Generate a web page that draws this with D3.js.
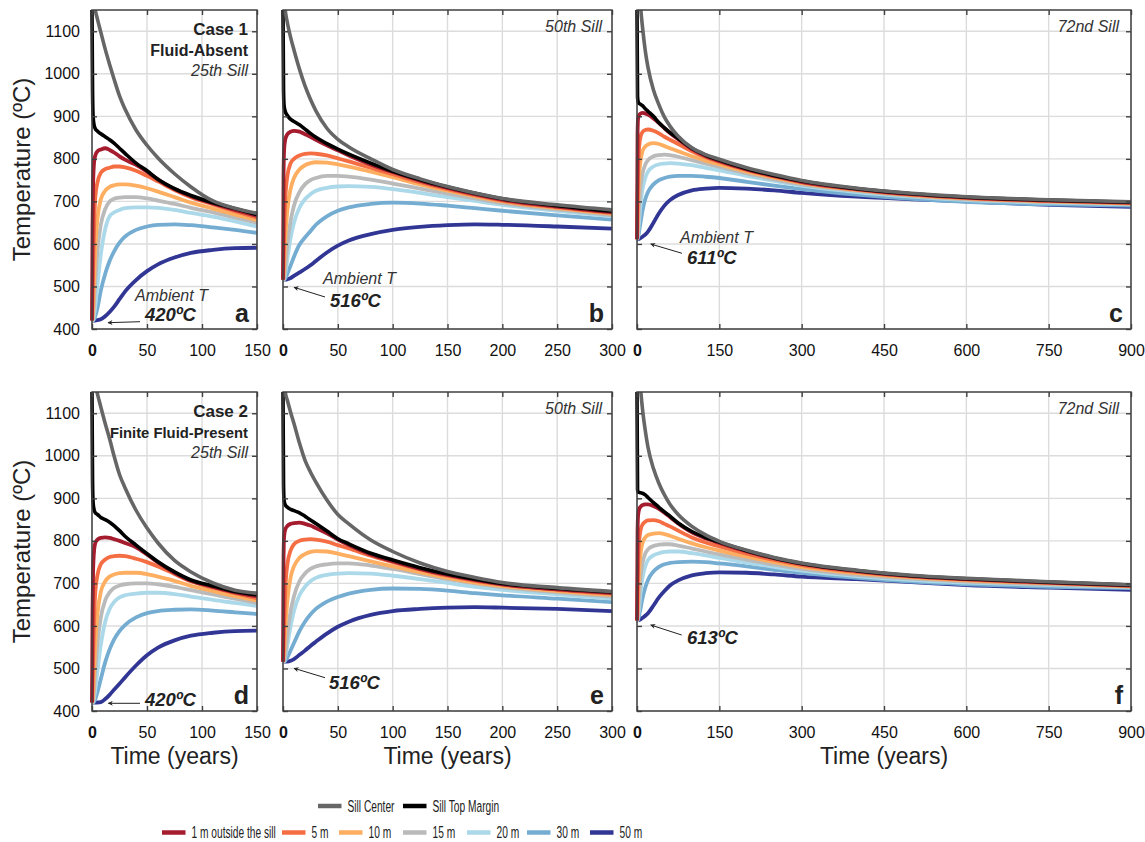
<!DOCTYPE html>
<html>
<head>
<meta charset="utf-8">
<script src="https://cdn.jsdelivr.net/npm/d3@7"></script>
<style>
  body { margin: 0; background: #fff; }
  svg { display: block; }
</style>
</head>
<body>
<svg id="fig" width="1145" height="842"></svg>
<script>
// ---- Time samples (years after emplacement) ----
const timeAD = [0, 0.5, 1, 2, 3, 5, 8, 12, 16, 20, 25, 30, 40, 50, 60, 75, 90, 110, 130, 150];
const timeBE = [0, 0.5, 1, 2, 4, 7, 10, 15, 20, 25, 30, 40, 50, 60, 80, 100, 125, 150, 175, 200, 250, 300];
const timeCF = [0, 1, 2, 4, 7, 10, 15, 20, 30, 40, 50, 60, 75, 100, 125, 150, 200, 250, 300, 400, 500, 600, 750, 900];

// ---- Case 1, 25th sill (°C) ----
const aCenter = [1200, 1195, 1185, 1168, 1150, 1128, 1098, 1058, 1022, 988, 948, 917, 868, 832, 802, 765, 734, 701, 684, 672];
const aMargin = [1150, 960, 900, 878, 871, 865, 859, 852, 845, 837, 825, 813, 790, 772, 752, 730, 714, 697, 683, 669];
const a1m  = [420, 640, 740, 795, 808, 818, 822, 825, 821, 815, 806, 798, 786, 770, 751, 729, 712, 695, 680, 666];
const a5m  = [420, 470, 540, 650, 710, 745, 767, 776, 779, 782, 782, 780, 772, 760, 747, 727, 710, 693, 677, 662];
const a10m = [420, 425, 445, 520, 590, 660, 705, 725, 734, 738, 740, 740, 737, 731, 723, 710, 697, 683, 669, 656];
const a15m = [420, 420, 428, 470, 515, 585, 645, 682, 700, 706, 709, 710, 710, 707, 702, 694, 685, 674, 662, 650];
const a20m = [420, 420, 421, 435, 455, 505, 575, 635, 665, 674, 680, 684, 686, 686, 685, 680, 673, 664, 653, 641];
const a30m = [420, 420, 420, 423, 430, 450, 490, 530, 560, 582, 603, 617, 633, 641, 645, 646, 644, 639, 633, 626];
const a50m = [420, 420, 420, 420, 420, 421, 423, 430, 440, 452, 470, 488, 515, 536, 552, 568, 579, 586, 590, 591];

// ---- Case 1, 50th sill ----
const bCenter = [1200, 1188, 1175, 1150, 1120, 1085, 1056, 1011, 972, 940, 913, 872, 846, 828, 800, 775, 753, 735, 720, 707, 692, 680];
const bMargin = [1150, 960, 925, 912, 902, 893, 888, 880, 870, 860, 851, 836, 823, 811, 790, 771, 751, 734, 719, 706, 690, 677];
const b1m  = [516, 760, 820, 845, 858, 864, 866, 864, 858, 852, 845, 832, 820, 808, 787, 769, 749, 732, 717, 704, 688, 675];
const b5m  = [516, 560, 620, 700, 760, 790, 800, 808, 812, 813, 812, 808, 801, 794, 779, 764, 745, 729, 715, 702, 686, 673];
const b10m = [516, 525, 550, 610, 680, 730, 755, 775, 785, 790, 792, 791, 787, 782, 770, 757, 740, 725, 712, 700, 684, 671];
const b15m = [516, 516, 520, 545, 600, 655, 690, 722, 740, 750, 755, 760, 760, 758, 751, 742, 730, 718, 707, 696, 681, 668];
const b20m = [516, 516, 518, 530, 565, 615, 650, 685, 705, 717, 725, 732, 735, 736, 734, 729, 720, 710, 701, 692, 678, 665];
const b30m = [516, 516, 516, 519, 530, 550, 570, 598, 615, 630, 645, 665, 678, 686, 694, 697, 695, 690, 684, 678, 667, 657];
const b50m = [516, 516, 516, 516, 517, 520, 525, 533, 541, 550, 560, 580, 596, 608, 623, 633, 640, 644, 646, 645, 641, 636];

// ---- Case 1, 72nd sill ----
const cCenter = [1300, 1270, 1245, 1200, 1150, 1110, 1055, 1015, 962, 927, 898, 877, 853, 826, 810, 799, 779, 763, 749, 731, 719, 711, 704, 699];
const cMargin = [1150, 945, 935, 930, 928, 925, 918, 912, 900, 885, 873, 862, 848, 825, 809, 797, 777, 761, 748, 730, 718, 710, 703, 698];
const c1m  = [611, 860, 895, 903, 907, 908, 907, 904, 895, 884, 872, 861, 846, 823, 807, 795, 775, 760, 746, 729, 717, 709, 702, 697];
const c5m  = [611, 700, 770, 830, 855, 863, 868, 869, 866, 860, 852, 845, 835, 818, 804, 793, 774, 758, 745, 728, 716, 708, 701, 696];
const c10m = [611, 640, 690, 760, 800, 818, 829, 834, 837, 835, 830, 825, 818, 806, 796, 787, 770, 756, 743, 727, 715, 707, 700, 695];
const c15m = [611, 620, 640, 690, 740, 765, 786, 797, 806, 809, 810, 809, 805, 797, 789, 781, 766, 752, 740, 725, 713, 705, 699, 694];
const c20m = [611, 614, 625, 655, 700, 728, 755, 770, 782, 787, 789, 790, 789, 785, 779, 773, 760, 748, 737, 722, 711, 703, 697, 693];
const c30m = [611, 612, 615, 630, 655, 678, 705, 722, 740, 750, 755, 758, 760, 760, 758, 755, 746, 737, 729, 716, 706, 699, 693, 690];
const c50m = [611, 611, 611, 612, 614, 617, 622, 629, 650, 672, 690, 703, 715, 726, 730, 732, 730, 726, 720, 711, 705, 700, 692, 687];

// ---- Case 2, 25th sill ----
const dCenter = [1210, 1203, 1196, 1182, 1168, 1145, 1115, 1076, 1040, 1000, 956, 925, 872, 830, 795, 754, 727, 701, 684, 677];
const dMargin = [1150, 940, 890, 872, 866, 862, 855, 850, 844, 836, 824, 811, 790, 770, 751, 727, 708, 694, 681, 673];
const d1m  = [420, 630, 730, 780, 795, 803, 807, 808, 807, 804, 800, 795, 785, 768, 749, 725, 706, 692, 679, 670];
const d5m  = [420, 460, 520, 620, 680, 720, 745, 756, 762, 764, 765, 764, 758, 750, 740, 722, 705, 690, 677, 665];
const d10m = [420, 425, 440, 500, 560, 630, 680, 705, 716, 721, 724, 725, 725, 722, 716, 706, 694, 682, 670, 660];
const d15m = [420, 420, 425, 455, 495, 560, 620, 660, 679, 689, 695, 698, 700, 700, 698, 692, 684, 674, 664, 654];
const d20m = [420, 420, 421, 433, 450, 495, 555, 610, 640, 656, 667, 672, 676, 678, 678, 675, 669, 661, 654, 647];
const d30m = [420, 420, 420, 422, 428, 445, 475, 515, 545, 568, 588, 602, 620, 630, 635, 638, 639, 636, 632, 628];
const d50m = [420, 420, 420, 420, 420, 420, 421, 428, 438, 450, 464, 479, 507, 531, 549, 566, 577, 584, 588, 589];

// ---- Case 2, 50th sill ----
const eCenter = [1190, 1180, 1170, 1150, 1130, 1102, 1076, 1030, 990, 962, 938, 896, 862, 840, 802, 775, 748, 728, 714, 702, 690, 681];
const eMargin = [1150, 930, 895, 885, 879, 874, 871, 866, 858, 849, 841, 823, 805, 793, 771, 755, 737, 722, 710, 700, 688, 680];
const e1m  = [516, 760, 810, 826, 835, 840, 842, 843, 840, 836, 830, 818, 803, 790, 768, 752, 734, 720, 708, 698, 686, 678];
const e5m  = [516, 550, 600, 680, 745, 778, 792, 800, 803, 804, 803, 798, 790, 782, 765, 750, 733, 718, 706, 697, 685, 676];
const e10m = [516, 525, 540, 590, 660, 715, 740, 760, 769, 774, 776, 775, 770, 764, 752, 740, 726, 713, 702, 694, 682, 673];
const e15m = [516, 516, 519, 535, 580, 635, 670, 705, 723, 734, 740, 745, 747, 747, 742, 734, 722, 710, 700, 691, 679, 669];
const e20m = [516, 516, 517, 527, 555, 600, 635, 672, 692, 705, 713, 720, 723, 724, 723, 718, 710, 701, 692, 685, 674, 664];
const e30m = [516, 516, 516, 518, 526, 543, 560, 588, 610, 627, 640, 657, 668, 676, 685, 688, 687, 683, 677, 672, 664, 656];
const e50m = [516, 516, 516, 516, 516, 518, 522, 532, 542, 553, 563, 582, 598, 610, 626, 635, 640, 643, 644, 643, 640, 635];

// ---- Case 2, 72nd sill ----
const fCenter = [1300, 1270, 1245, 1200, 1150, 1110, 1060, 1020, 970, 935, 908, 886, 862, 834, 814, 799, 778, 761, 748, 731, 719, 712, 704, 697];
const fMargin = [1150, 920, 915, 914, 913, 912, 908, 902, 890, 879, 868, 858, 842, 822, 808, 797, 777, 760, 747, 730, 718, 711, 703, 696];
const f1m  = [613, 820, 860, 875, 881, 884, 886, 886, 882, 875, 866, 856, 841, 820, 806, 795, 775, 759, 746, 729, 717, 710, 702, 695];
const f5m  = [613, 680, 740, 800, 828, 838, 845, 848, 849, 846, 840, 834, 824, 808, 796, 787, 770, 755, 743, 727, 716, 709, 701, 694];
const f10m = [613, 630, 665, 730, 775, 795, 808, 814, 817, 818, 816, 812, 805, 794, 785, 777, 763, 750, 739, 724, 714, 707, 700, 693];
const f15m = [613, 616, 630, 670, 720, 748, 770, 780, 788, 791, 792, 792, 789, 782, 775, 768, 756, 744, 734, 720, 711, 704, 698, 692];
const f20m = [613, 614, 622, 645, 685, 713, 740, 755, 766, 771, 774, 775, 775, 771, 766, 760, 749, 739, 730, 717, 708, 702, 696, 691];
const f30m = [613, 613, 615, 625, 645, 665, 690, 708, 728, 739, 745, 748, 750, 751, 750, 747, 740, 732, 725, 713, 704, 698, 692, 689];
const f50m = [613, 613, 613, 614, 616, 619, 624, 630, 648, 667, 682, 695, 707, 719, 724, 726, 725, 721, 716, 710, 703, 696, 690, 685];

// ---- Series, ticks and labels ----
const seriesNames  = ["Sill Center", "Sill Top Margin", "1 m outside the sill", "5 m", "10 m", "15 m", "20 m", "30 m", "50 m"];
const seriesColors = ["#666666", "#000000", "#a51c2f", "#f46d43", "#fdae61", "#bababa", "#abd9e9", "#74add1", "#313695"];
const tempTicks = [400, 500, 600, 700, 800, 900, 1000, 1100];
const ticksAD = [0, 50, 100, 150];
const ticksBE = [0, 50, 100, 150, 200, 250, 300];
const ticksCF = [0, 150, 300, 450, 600, 750, 900];
const sillLabels = ["25th Sill", "50th Sill", "72nd Sill"];
const ambientCase1 = ["420ºC", "516ºC", "611ºC"];
const ambientCase2 = ["420ºC", "516ºC", "613ºC"];
const panelLetters = ["a", "b", "c", "d", "e", "f"];

// ---- Layout ----
const FONT = "'Liberation Sans', Arial, Helvetica, sans-serif";
const cols = [{ l: 92, r: 257 }, { l: 283, r: 612 }, { l: 637, r: 1131 }];
const rows = [{ t: 10, b: 329 }, { t: 392, b: 711 }];
const xMax = [150, 300, 900];
const times = [timeAD, timeBE, timeCF];
const xTicks = [ticksAD, ticksBE, ticksCF];

const panelSeries = [
  [aCenter, aMargin, a1m, a5m, a10m, a15m, a20m, a30m, a50m],
  [bCenter, bMargin, b1m, b5m, b10m, b15m, b20m, b30m, b50m],
  [cCenter, cMargin, c1m, c5m, c10m, c15m, c20m, c30m, c50m],
  [dCenter, dMargin, d1m, d5m, d10m, d15m, d20m, d30m, d50m],
  [eCenter, eMargin, e1m, e5m, e10m, e15m, e20m, e30m, e50m],
  [fCenter, fMargin, f1m, f5m, f10m, f15m, f20m, f30m, f50m]
];

// annotation offsets, relative to each panel's top-left corner
const notes = [
  { amb: [43, 291], val: [53, 311], tail: [48, 311.7], tip: [16, 312.7] },
  { amb: [40, 274], val: [47, 296.5], tail: [42, 287], tip: [11, 277.3] },
  { amb: [43, 233], val: [50, 253.5], tail: [45, 243.3], tip: [13.7, 234] },
  { amb: null, val: [53, 313.5], tail: [48, 311.3], tip: [16.3, 311.3] },
  { amb: null, val: [46, 296.5], tail: [42, 285.7], tip: [11, 276.3] },
  { amb: null, val: [50, 252], tail: [44.7, 243], tip: [13.7, 233] }
];

const svg = d3.select("#fig");
const defs = svg.append("defs");
defs.append("marker")
  .attr("id", "arrowhead")
  .attr("viewBox", "0 0 10 10")
  .attr("refX", 9).attr("refY", 5)
  .attr("markerWidth", 7).attr("markerHeight", 5)
  .attr("markerUnits", "userSpaceOnUse")
  .attr("orient", "auto")
  .append("path")
  .attr("d", "M0,0 L10,5 L0,10 L3,5 Z")
  .attr("fill", "#222");

const drawOrder = [8, 7, 6, 5, 4, 3, 2, 1, 0];

panelSeries.forEach((series, pi) => {
  const ci = pi % 3, ri = Math.floor(pi / 3);
  const { l, r } = cols[ci];
  const { t, b } = rows[ri];
  const x = d3.scaleLinear().domain([0, xMax[ci]]).range([l, r]);
  const y = d3.scaleLinear().domain([400, 1150]).range([b, t]);
  const g = svg.append("g");

  // grid
  g.append("g").selectAll("line").data(xTicks[ci]).join("line")
    .attr("x1", d => x(d)).attr("x2", d => x(d))
    .attr("y1", t).attr("y2", b)
    .attr("stroke", "#dcdcdc").attr("stroke-width", 1.4);
  g.append("g").selectAll("line").data(tempTicks).join("line")
    .attr("x1", l).attr("x2", r)
    .attr("y1", d => y(d)).attr("y2", d => y(d))
    .attr("stroke", "#dcdcdc").attr("stroke-width", 1.4);

  // curves
  const clipId = "clip" + pi;
  defs.append("clipPath").attr("id", clipId)
    .append("rect").attr("x", l - 2).attr("y", t).attr("width", r - l + 4).attr("height", b - t + 2);
  const tArr = times[ci];
  const line = d3.line()
    .x((d, i) => x(tArr[i]))
    .y(d => y(d))
    .curve(d3.curveMonotoneX);
  const lg = g.append("g").attr("clip-path", `url(#${clipId})`);
  drawOrder.forEach(si => {
    lg.append("path")
      .attr("d", line(series[si]))
      .attr("fill", "none")
      .attr("stroke", seriesColors[si])
      .attr("stroke-width", si < 2 ? 3.6 : 3.8)
      .attr("stroke-linejoin", "round")
      .attr("stroke-linecap", "butt");
  });

  // axes (inward ticks on all four sides)
  const styleAxis = sel => {
    sel.select(".domain").remove();
    sel.selectAll(".tick line").attr("stroke", "#404040").attr("stroke-width", 1.4);
    sel.selectAll("text").attr("font-family", FONT).attr("font-size", 16).attr("fill", "#111");
  };
  const xb = g.append("g").attr("transform", `translate(0,${b})`)
    .call(d3.axisBottom(x).tickValues(xTicks[ci]).tickSizeInner(-5).tickSizeOuter(0).tickPadding(16).tickFormat(d3.format("d")))
    .call(styleAxis);
  xb.selectAll(".tick text").filter(d => d === 0).attr("font-weight", "bold");
  g.append("g").attr("transform", `translate(0,${t})`)
    .call(d3.axisTop(x).tickValues(xTicks[ci]).tickSizeInner(-5).tickSizeOuter(0).tickFormat(""))
    .call(styleAxis);
  const yl = g.append("g").attr("transform", `translate(${l},0)`)
    .call(d3.axisLeft(y).tickValues(tempTicks).tickSizeInner(-5).tickSizeOuter(0).tickPadding(12).tickFormat(d3.format("d")))
    .call(styleAxis);
  if (ci !== 0) yl.selectAll("text").remove();
  g.append("g").attr("transform", `translate(${r},0)`)
    .call(d3.axisRight(y).tickValues(tempTicks).tickSizeInner(-5).tickSizeOuter(0).tickFormat(""))
    .call(styleAxis);

  // frame
  g.append("rect").attr("x", l).attr("y", t).attr("width", r - l).attr("height", b - t)
    .attr("fill", "none").attr("stroke", "#404040").attr("stroke-width", 1.5);

  // sill label, case header
  if (ci === 0) {
    g.append("text").attr("x", r - 9).attr("y", t + 25).attr("text-anchor", "end")
      .attr("font-family", FONT).attr("font-size", 17).attr("font-weight", "bold").attr("fill", "#222")
      .text(ri === 0 ? "Case 1" : "Case 2");
    g.append("text").attr("x", r - 9).attr("y", t + 45.5).attr("text-anchor", "end")
      .attr("font-family", FONT).attr("font-size", ri === 0 ? 16 : 14.8).attr("font-weight", "bold").attr("fill", "#222")
      .text(ri === 0 ? "Fluid-Absent" : "Finite Fluid-Present");
    g.append("text").attr("x", r - 9).attr("y", t + 66).attr("text-anchor", "end")
      .attr("font-family", FONT).attr("font-size", 16).attr("font-style", "italic").attr("fill", "#333")
      .text(sillLabels[0]);
  } else {
    g.append("text").attr("x", r - (ci === 1 ? 10 : 12)).attr("y", t + 22).attr("text-anchor", "end")
      .attr("font-family", FONT).attr("font-size", 16).attr("font-style", "italic").attr("fill", "#333")
      .text(sillLabels[ci]);
  }

  // panel letter
  g.append("text").attr("x", r - 8).attr("y", b - 7).attr("text-anchor", "end")
    .attr("font-family", FONT).attr("font-size", 25).attr("font-weight", "bold").attr("fill", "#222")
    .text(panelLetters[pi]);

  // ambient temperature annotation
  const n = notes[pi];
  if (n.amb) {
    g.append("text").attr("x", l + n.amb[0]).attr("y", t + n.amb[1])
      .attr("font-family", FONT).attr("font-size", 16).attr("font-style", "italic").attr("fill", "#333")
      .text("Ambient T");
  }
  g.append("text").attr("x", l + n.val[0]).attr("y", t + n.val[1])
    .attr("font-family", FONT).attr("font-size", 18.5).attr("font-style", "italic").attr("font-weight", "bold").attr("fill", "#222")
    .text(ri === 0 ? ambientCase1[ci] : ambientCase2[ci]);
  g.append("line")
    .attr("x1", l + n.tail[0]).attr("y1", t + n.tail[1])
    .attr("x2", l + n.tip[0]).attr("y2", t + n.tip[1])
    .attr("stroke", "#222").attr("stroke-width", 1)
    .attr("marker-end", "url(#arrowhead)");

  // axis titles
  if (ci === 0) {
    svg.append("text")
      .attr("transform", `translate(30,${(t + b) / 2}) rotate(-90)`)
      .attr("text-anchor", "middle")
      .attr("font-family", FONT).attr("font-size", 24).attr("fill", "#222")
      .text("Temperature (ºC)");
  }
  if (ri === 1) {
    svg.append("text")
      .attr("x", (l + r) / 2).attr("y", 764)
      .attr("text-anchor", "middle")
      .attr("font-family", FONT).attr("font-size", 23).attr("fill", "#222")
      .text("Time (years)");
  }
});

// ---- Legend ----
const legendRows = [
  { y: 806, items: [0, 1], xs: [318, 403] },
  { y: 832.5, items: [2, 3, 4, 5, 6, 7, 8], xs: [162, 282, 339, 403, 467, 527, 590] }
];
const legend = svg.append("g");
legendRows.forEach(row => {
  row.items.forEach((si, k) => {
    const x0 = row.xs[k];
    legend.append("line")
      .attr("x1", x0).attr("x2", x0 + 23.5)
      .attr("y1", row.y).attr("y2", row.y)
      .attr("stroke", seriesColors[si]).attr("stroke-width", 4.5);
    legend.append("text")
      .attr("transform", `translate(${x0 + 29.5},${row.y + 5.5}) scale(0.6,1)`)
      .attr("font-family", FONT).attr("font-size", 17).attr("fill", "#222")
      .text(seriesNames[si]);
  });
});
</script>
</body>
</html>
